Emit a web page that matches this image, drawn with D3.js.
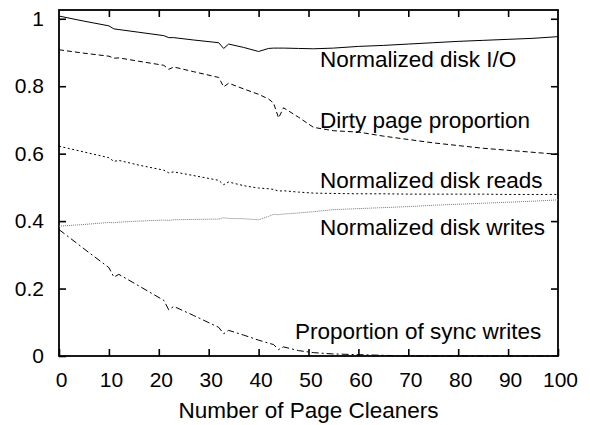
<!DOCTYPE html>
<html>
<head>
<meta charset="utf-8">
<script src="https://cdn.jsdelivr.net/npm/d3@7"></script>
<style>
  body { margin: 0; background: #fff; }
  text { font-family: "Liberation Sans", Arial, sans-serif; fill: #000; }
</style>
</head>
<body>
<div class="chart"></div>
<script>
// number of page cleaners (x values)
var cleaners = [0, 5, 10, 11, 12, 16, 21, 22, 23, 27, 32, 33, 34, 37, 40, 42, 43, 44, 45, 48, 51, 55, 60, 65, 70, 75, 80, 85, 90, 95, 100];

var diskIO = [1.008, 0.993, 0.979, 0.970, 0.968, 0.960, 0.950, 0.944, 0.944, 0.937, 0.929, 0.912, 0.925, 0.915, 0.903, 0.912, 0.913, 0.913, 0.913, 0.912, 0.911, 0.913, 0.918, 0.921, 0.925, 0.929, 0.933, 0.936, 0.939, 0.942, 0.947];

var dirtyPages = [0.908, 0.898, 0.889, 0.883, 0.884, 0.874, 0.862, 0.850, 0.857, 0.843, 0.826, 0.798, 0.809, 0.792, 0.776, 0.762, 0.750, 0.706, 0.736, 0.708, 0.678, 0.668, 0.664, 0.652, 0.642, 0.632, 0.624, 0.616, 0.610, 0.604, 0.598];

var diskReads = [0.622, 0.605, 0.588, 0.577, 0.580, 0.566, 0.551, 0.543, 0.546, 0.535, 0.521, 0.508, 0.516, 0.505, 0.498, 0.496, 0.494, 0.489, 0.490, 0.486, 0.483, 0.482, 0.481, 0.481, 0.480, 0.480, 0.480, 0.480, 0.479, 0.479, 0.479];

var diskWrites = [0.385, 0.390, 0.396, 0.395, 0.397, 0.400, 0.403, 0.402, 0.404, 0.405, 0.406, 0.410, 0.408, 0.407, 0.404, 0.414, 0.420, 0.419, 0.421, 0.424, 0.428, 0.434, 0.437, 0.440, 0.443, 0.447, 0.450, 0.453, 0.456, 0.459, 0.463];

var syncWrites = [0.375, 0.318, 0.262, 0.234, 0.242, 0.208, 0.165, 0.137, 0.147, 0.120, 0.085, 0.066, 0.076, 0.062, 0.047, 0.038, 0.034, 0.019, 0.027, 0.016, 0.010, 0.006, 0.004, 0.002, 0.000, 0.000, 0.000, 0.000, 0.000, 0.000, 0.000];

var seriesNames = ["Normalized disk I/O", "Dirty page proportion", "Normalized disk reads", "Normalized disk writes", "Proportion of sync writes"];

var xTicks = [0, 10, 20, 30, 40, 50, 60, 70, 80, 90, 100];
var yTicks = [0, 0.2, 0.4, 0.6, 0.8, 1];
var xTitle = "Number of Page Cleaners";

var svgWidth = 590, svgHeight = 425;
var margin = { top: 10, right: 32, bottom: 69, left: 59 };
var width = svgWidth - margin.left - margin.right;
var height = svgHeight - margin.top - margin.bottom;

var svg = d3.select(".chart").append("svg")
  .attr("width", svgWidth)
  .attr("height", svgHeight);

var chartGroup = svg.append("g")
  .attr("transform", `translate(${margin.left}, ${margin.top})`);

var xScale = d3.scaleLinear().domain([0, 100]).range([0, width]);
var yScale = d3.scaleLinear().domain([0, 1.026]).range([height, 0]);

// axes, ticks pointing inwards, mirrored on top/right
var tickLen = 7;
var xAxisG = chartGroup.append("g")
  .attr("transform", `translate(0, ${height})`)
  .call(d3.axisBottom(xScale).tickValues(xTicks).tickSizeInner(-tickLen).tickSizeOuter(0).tickPadding(16).tickFormat(d3.format("d")));
xAxisG.selectAll(".tick text").attr("dx", 2);
chartGroup.append("g")
  .call(d3.axisTop(xScale).tickValues(xTicks.slice(1, -1)).tickSizeInner(-tickLen).tickSizeOuter(0).tickFormat(""));
chartGroup.append("g")
  .call(d3.axisLeft(yScale).tickValues(yTicks).tickSizeInner(-tickLen).tickSizeOuter(0).tickPadding(15).tickFormat(d => d === 0 || d === 1 ? d : d3.format(".1f")(d)));
chartGroup.append("g")
  .attr("transform", `translate(${width}, 0)`)
  .call(d3.axisRight(yScale).tickValues(yTicks.slice(1)).tickSizeInner(-tickLen).tickSizeOuter(0).tickFormat(""));

chartGroup.selectAll(".domain").remove();
chartGroup.selectAll(".tick line").attr("stroke", "#000").attr("stroke-width", 1.6);
chartGroup.selectAll(".tick text").attr("font-size", "21px").attr("fill", "#000")
  .style("font-family", "'Liberation Sans', Arial, sans-serif");

chartGroup.append("rect")
  .attr("width", width)
  .attr("height", height)
  .attr("fill", "none")
  .attr("stroke", "#000")
  .attr("stroke-width", 1.8);

var allSeries = [diskIO, dirtyPages, diskReads, diskWrites, syncWrites];
var dashes = ["none", "5,3", "2,2.5", "1,1", "7,3,2,3"];
var colors = ["#000", "#000", "#000", "#777", "#000"];

var line = d3.line()
  .x((d, i) => xScale(cleaners[i]))
  .y(d => yScale(d));

chartGroup.selectAll(".series")
  .data(allSeries)
  .enter()
  .append("path")
  .attr("class", "series")
  .attr("d", d => line(d))
  .attr("fill", "none")
  .attr("stroke", (d, i) => colors[i])
  .attr("stroke-width", 1)
  .attr("stroke-dasharray", (d, i) => dashes[i]);

// curve labels
var labelPos = [[52.3, 0.857], [52.3, 0.677], [52.3, 0.499], [52.3, 0.360], [47.3, 0.051]];
chartGroup.selectAll(".label")
  .data(seriesNames)
  .enter()
  .append("text")
  .attr("class", "label")
  .attr("x", (d, i) => xScale(labelPos[i][0]))
  .attr("y", (d, i) => yScale(labelPos[i][1]))
  .attr("font-size", "22.5px")
  .text(d => d);

// x axis title
svg.append("text")
  .attr("x", margin.left + width / 2)
  .attr("y", 418)
  .attr("text-anchor", "middle")
  .attr("font-size", "22.5px")
  .text(xTitle);
</script>
</body>
</html>
